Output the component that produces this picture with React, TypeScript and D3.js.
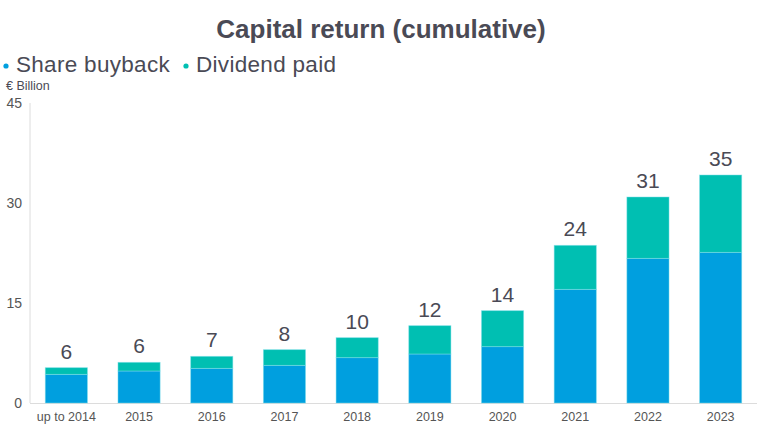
import { useEffect, useRef } from 'react'
import * as d3 from 'd3'

const categories = ['up to 2014', '2015', '2016', '2017', '2018', '2019', '2020', '2021', '2022', '2023']
const buyback = [4.3, 4.8, 5.2, 5.65, 6.8, 7.35, 8.45, 17.05, 21.7, 22.6]
const dividend = [1.0, 1.3, 1.8, 2.35, 3.0, 4.25, 5.4, 6.6, 9.2, 11.6]
const totalLabels = ['6', '6', '7', '8', '10', '12', '14', '24', '31', '35']
const yTicks = [0, 15, 30, 45]

const BLUE = '#009fdf'
const TEAL = '#00bfb2'
const TEXT = '#4a4a55'

export default function App() {
  const svgRef = useRef<SVGSVGElement>(null)

  useEffect(() => {
    if (!svgRef.current) return
    const svg = d3.select(svgRef.current)
    svg.selectAll('*').remove()

    const font = '"Liberation Sans", Arial, sans-serif'
    const x = d3.scaleBand<string>().domain(categories).range([30, 757]).paddingInner(0.42).paddingOuter(0.21)
    const y = d3.scaleLinear().domain([0, 45]).range([403, 103])

    // title
    svg.append('text')
      .attr('x', 381).attr('y', 38)
      .attr('text-anchor', 'middle')
      .style('font-family', font).style('font-weight', 'bold').style('font-size', '26px')
      .style('fill', TEXT)
      .text('Capital return (cumulative)')

    // legend
    const legend = [
      { label: 'Share buyback', color: BLUE, x: 6 },
      { label: 'Dividend paid', color: TEAL, x: 186 },
    ]
    legend.forEach(l => {
      svg.append('circle').attr('cx', l.x).attr('cy', 66).attr('r', 2.6).attr('fill', l.color)
      svg.append('text')
        .attr('x', l.x + 10).attr('y', 72)
        .style('font-family', font).style('font-size', '22.5px').style('letter-spacing', '0.3px')
        .style('fill', TEXT)
        .text(l.label)
    })

    svg.append('text')
      .attr('x', 6).attr('y', 90)
      .style('font-family', font).style('font-size', '12.5px').style('fill', TEXT)
      .text('€ Billion')

    // axes lines
    svg.append('line').attr('x1', 30).attr('x2', 30).attr('y1', y(45)).attr('y2', y(0))
      .attr('stroke', '#dcdcdc').attr('stroke-width', 1)
    svg.append('line').attr('x1', 30).attr('x2', 757).attr('y1', y(0) + 0.5).attr('y2', y(0) + 0.5)
      .attr('stroke', '#dcdcdc').attr('stroke-width', 1)

    // y ticks
    svg.selectAll('.ytick').data(yTicks).join('text')
      .attr('class', 'ytick')
      .attr('x', 22).attr('y', d => y(d) + 5)
      .attr('text-anchor', 'end')
      .style('font-family', font).style('font-size', '14px').style('fill', '#555')
      .text(d => d)

    const stackData = categories.map((c, i) => ({ cat: c, buyback: buyback[i], dividend: dividend[i] }))
    const series = d3.stack<any, string>().keys(['buyback', 'dividend'])(stackData)
    const colors: Record<string, string> = { buyback: BLUE, dividend: TEAL }

    series.forEach(s => {
      svg.append('g').selectAll('rect').data(s).join('rect')
        .attr('x', d => x(d.data.cat) || 0)
        .attr('width', x.bandwidth())
        .attr('y', d => y(d[1]))
        .attr('height', d => y(d[0]) - y(d[1]))
        .attr('fill', colors[s.key])
        .attr('stroke', '#7fe0ea')
        .attr('stroke-opacity', 0.6)
        .attr('stroke-width', 0.8)
    })

    // total labels
    svg.selectAll('.tot').data(stackData).join('text')
      .attr('class', 'tot')
      .attr('x', d => (x(d.cat) || 0) + x.bandwidth() / 2)
      .attr('y', d => y(d.buyback + d.dividend) - 9)
      .attr('text-anchor', 'middle')
      .style('font-family', font).style('font-size', '21px').style('fill', TEXT)
      .text((d, i) => totalLabels[i])

    // x labels
    svg.selectAll('.xl').data(categories).join('text')
      .attr('class', 'xl')
      .attr('x', d => (x(d) || 0) + x.bandwidth() / 2)
      .attr('y', 421)
      .attr('text-anchor', 'middle')
      .style('font-family', font).style('font-size', '12.5px').style('fill', '#555')
      .text(d => d)
  }, [])

  return (
    <svg ref={svgRef} width={757} height={424}
      style={{ position: 'absolute', left: 0, top: 0, background: '#fff' }} />
  )
}
